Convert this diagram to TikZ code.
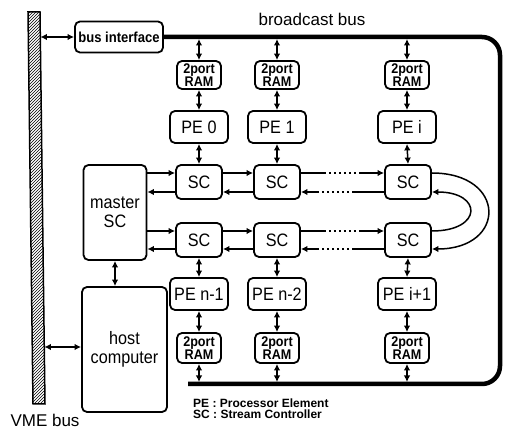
\documentclass[tikz,border=0pt]{standalone}
\usepackage{fontspec}
\setmainfont{Liberation Sans}
\newfontfamily\condf[FakeStretch=0.9]{Liberation Sans}
\newfontfamily\condbf[FakeStretch=0.9]{Liberation Sans Bold}
\usetikzlibrary{arrows.meta,patterns}
\begin{document}
\begin{tikzpicture}[x=1pt,y=-1pt,
  box/.style={draw, line width=1.8pt, rounded corners=5pt, inner sep=0pt, align=center},
  bigtext/.style={font=\condf\fontsize{18}{18.5}\selectfont},
  ram/.style={box, minimum width=44pt, minimum height=28pt, font=\condbf\fontsize{14}{10.5}\selectfont},
  pe/.style={box, bigtext, minimum width=58pt, minimum height=32pt},
  sc/.style={box, bigtext, minimum width=46pt, minimum height=34pt},
  tip/.tip={Latex[length=6.5pt,width=6.5pt]},
  link/.style={line width=1.5pt, -tip},
  dlink/.style={line width=1.5pt, tip-tip},
  dotfwd/.style={dash pattern=on 25pt off 3pt on 2pt off 3pt on 2pt off 3pt on 2pt off 3pt on 2pt off 3pt on 2pt off 3pt on 2pt off 3pt on 100pt},
  dotrev/.style={dash pattern=on 32pt off 3pt on 2pt off 3pt on 2pt off 3pt on 2pt off 3pt on 2pt off 3pt on 2pt off 3pt on 2pt off 3pt on 100pt},
  label/.style={font=\fontsize{17}{17}\selectfont, inner sep=0pt},
  bus/.style={line width=4.5pt, rounded corners=18pt}
]
\useasboundingbox (0,0) rectangle (506,435);

% VME bus bar
\draw[line width=1.5pt, pattern=north east lines] (28,12) -- (40,12) -- (45,404) -- (33,404) -- cycle;
\coordinate (vmeA) at (40.4,37);
\coordinate (vmeB) at (44.4,347);
\node[label, anchor=base] (vmelabel) at (45,426) {VME bus};

% bus interface and broadcast bus
\node[box, minimum width=88pt, minimum height=31pt, font=\condbf\fontsize{14.5}{14.5}\selectfont] (bi) at (119,37) {bus interface};
\coordinate (c1) at (500,37);
\coordinate (c2) at (500,384);
\coordinate (busend) at (188,384);
\draw[bus] (bi.east) -- (c1) -- (c2) -- (busend);
\node[label, anchor=base] (bclabel) at (312,25.5) {broadcast bus};
\coordinate (topbus) at (0,39);
\coordinate (botbus) at (0,382);

% upper columns
\node[ram] (ramA) at (199,75) {2port\\RAM};
\node[ram] (ramB) at (277,75) {2port\\RAM};
\node[ram] (ramC) at (407,75) {2port\\RAM};
\node[pe] (peA) at (199,127) {PE 0};
\node[pe] (peB) at (277,127) {PE 1};
\node[pe] (peC) at (407,127) {PE i};
\node[sc] (scA) at (199,182) {SC};
\node[sc] (scB) at (277,182) {SC};
\node[sc] (scC) at (408,182) {SC};

% lower columns
\node[sc] (sdA) at (199,240) {SC};
\node[sc] (sdB) at (277,240) {SC};
\node[sc] (sdC) at (408,240) {SC};
\node[pe] (pdA) at (199,294) {PE n-1};
\node[pe] (pdB) at (277,294) {PE n-2};
\node[pe] (pdC) at (407,294) {PE i+1};
\node[ram, minimum height=30pt] (rdA) at (199,348) {2port\\RAM};
\node[ram, minimum height=30pt] (rdB) at (277,348) {2port\\RAM};
\node[ram, minimum height=30pt] (rdC) at (407,348) {2port\\RAM};

% master SC and host
\node[box, bigtext, minimum width=63pt, minimum height=95pt] (master) at (115,212.5) {master\\SC};
\node[box, bigtext, minimum width=85pt, minimum height=125pt] (host) at (124.5,349.5) {host\\computer};

% vertical links
\foreach \c in {A,B,C}{
  \draw[dlink] (ram\c.north |- topbus) -- (ram\c.north);
  \draw[dlink] (ram\c.south) -- (pe\c.north);
  \draw[dlink] (pe\c.south) -- (sc\c.north);
  \draw[dlink] (sd\c.south) -- (pd\c.north);
  \draw[dlink] (pd\c.south) -- (rd\c.north);
  \draw[dlink] (rd\c.south) -- (rd\c.south |- botbus);
}
\draw[dlink] (master.south) -- (master.south |- host.north);
\draw[dlink] (vmeA) -- (bi.west);
\draw[dlink] (vmeB) -- (host.west |- vmeB);

% horizontal links
\coordinate (yu1) at (0,173);
\coordinate (yl1) at (0,192);
\coordinate (yu2) at (0,231);
\coordinate (yl2) at (0,249);
\draw[link] (master.east |- yu1) -- (scA.west |- yu1);
\draw[link] (scA.west |- yl1) -- (master.east |- yl1);
\draw[link] (scA.east |- yu1) -- (scB.west |- yu1);
\draw[link] (scB.west |- yl1) -- (scA.east |- yl1);
\draw[link, dotfwd] (scB.east |- yu1) -- (scC.west |- yu1);
\draw[link, dotrev] (scC.west |- yl1) -- (scB.east |- yl1);

\draw[link] (master.east |- yu2) -- (sdA.west |- yu2);
\draw[link] (sdA.west |- yl2) -- (master.east |- yl2);
\draw[link] (sdA.east |- yu2) -- (sdB.west |- yu2);
\draw[link] (sdB.west |- yl2) -- (sdA.east |- yl2);
\draw[link, dotfwd] (sdB.east |- yu2) -- (sdC.west |- yu2);
\draw[link, dotrev] (sdC.west |- yl2) -- (sdB.east |- yl2);

% turnaround arcs
\draw[link] (scC.east |- yu1) .. controls +(75,0) and +(75,0) .. (sdC.east |- yl2);
\draw[link] (sdC.east |- yu2) .. controls +(51,0) and +(51,0) .. (scC.east |- yl1);

% legend
\node[font=\bfseries\fontsize{12}{10.5}\selectfont, align=left, anchor=base west, inner sep=0pt] (legend) at (193,418) {PE : Processor Element\\SC : Stream Controller};
\end{tikzpicture}
\end{document}
